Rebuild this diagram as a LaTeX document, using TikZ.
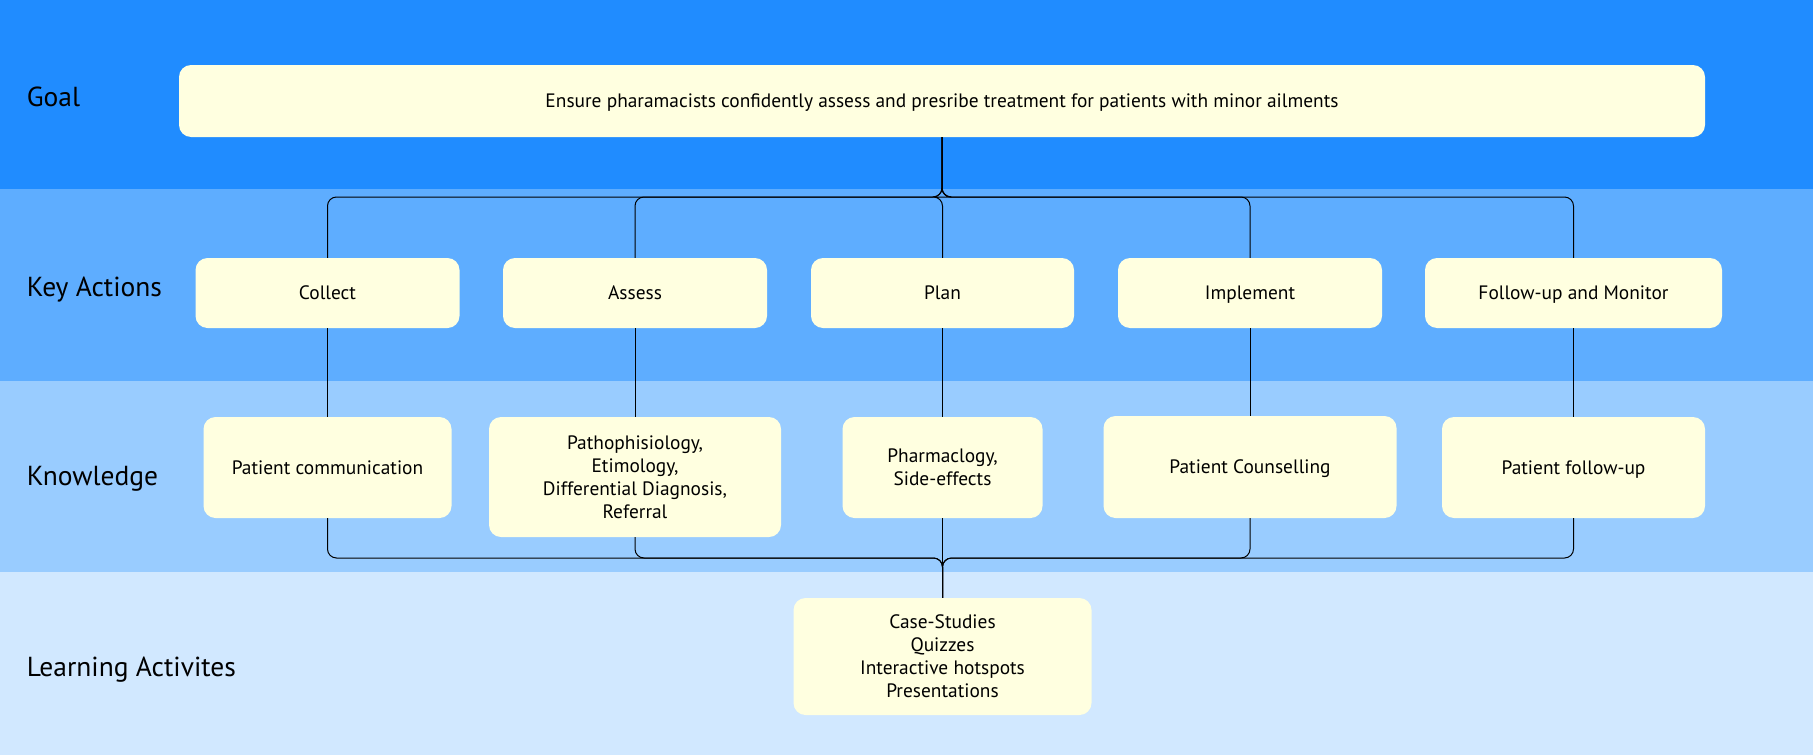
\documentclass[tikz,border=0pt]{standalone}
\usepackage{fontspec}
\setmainfont{PT Sans}
\usetikzlibrary{calc}
\definecolor{bandgoal}{RGB}{32,140,255}
\definecolor{bandkey}{RGB}{94,173,255}
\definecolor{bandknow}{RGB}{153,204,255}
\definecolor{bandlearn}{RGB}{209,232,255}
\definecolor{boxfill}{RGB}{255,255,224}
\begin{document}
\begin{tikzpicture}[x=1pt,y=-1pt,
  box/.style={fill=boxfill, rounded corners=12pt, align=center, inner sep=0pt,
    text=black, font=\fontsize{19.4}{23}\selectfont},
  oneline/.style={text height=18pt, text depth=4.4pt},
  rowlabel/.style={anchor=base west, inner sep=0pt, text=black,
    font=\fontsize{27.5}{34}\selectfont},
  conn/.style={draw=black, line width=1pt, rounded corners=9pt}]
\useasboundingbox (0,0) rectangle (1813,755);
% bands
\fill[bandgoal]  (0,0)   rectangle (1813,189);
\fill[bandkey]   (0,189) rectangle (1813,381);
\fill[bandknow]  (0,381) rectangle (1813,572);
\fill[bandlearn] (0,572) rectangle (1813,755);
% row labels
\node[rowlabel] (lgoal)  at (26.6,106) {Goal};
\node[rowlabel] (lkey)   at (26.6,296) {Key Actions};
\node[rowlabel] (lknow)  at (26.6,485) {Knowledge};
\node[rowlabel] (llearn) at (26.6,676) {Learning Activites};
% goal
\node[box, oneline, minimum width=1526pt, minimum height=72pt] (goal) at (942,101)
  {Ensure pharamacists confidently assess and presribe treatment for patients with minor ailments};
% key actions
\node[box, oneline, minimum width=264pt, minimum height=70pt] (collect) at (327.5,293) {Collect};
\node[box, oneline, minimum width=264pt, minimum height=70pt] (assess)  at (635,293) {Assess};
\node[box, oneline, minimum width=263pt, minimum height=70pt] (plan)    at (942.5,293) {Plan};
\node[box, oneline, minimum width=264pt, minimum height=70pt] (implement) at (1250,293) {Implement};
\node[box, oneline, minimum width=297pt, minimum height=70pt] (follow)  at (1573.5,293) {Follow-up and Monitor};
% knowledge
\node[box, oneline, minimum width=248pt, minimum height=101pt] (comm)  at (327.5,467.5) {Patient communication};
\node[box, minimum width=292pt, minimum height=120pt] (patho) at (635,477)
  {Pathophisiology,\\Etimology,\\Differential Diagnosis,\\Referral};
\node[box, minimum width=200pt, minimum height=101pt] (pharm) at (942.5,467.5) {Pharmaclogy,\\Side-effects};
\node[box, oneline, minimum width=293pt, minimum height=102pt] (couns) at (1250,467) {Patient Counselling};
\node[box, oneline, minimum width=263pt, minimum height=101pt] (fup)   at (1573.5,467.5) {Patient follow-up};
% learning
\node[box, minimum width=298pt, minimum height=117pt] (learn) at (942.5,656.5)
  {Case-Studies\\Quizzes\\Interactive hotspots\\Presentations};
% bus coordinates
\coordinate (topbus) at (942.5,197);
\coordinate (botbus) at (942.5,558);
% goal -> key actions
\foreach \t in {collect,assess,plan,implement,follow}
  \draw[conn] (goal.south) -- (goal.south |- topbus) -| (\t.north);
% key actions -> knowledge
\draw[conn] (collect.south) -- (comm.north);
\draw[conn] (assess.south) -- (patho.north);
\draw[conn] (plan.south) -- (pharm.north);
\draw[conn] (implement.south) -- (couns.north);
\draw[conn] (follow.south) -- (fup.north);
% knowledge -> learning
\foreach \s in {comm,patho,pharm,couns,fup}
  \draw[conn] (\s.south) -- (\s.south |- botbus) -| (learn.north);
\end{tikzpicture}
\end{document}
